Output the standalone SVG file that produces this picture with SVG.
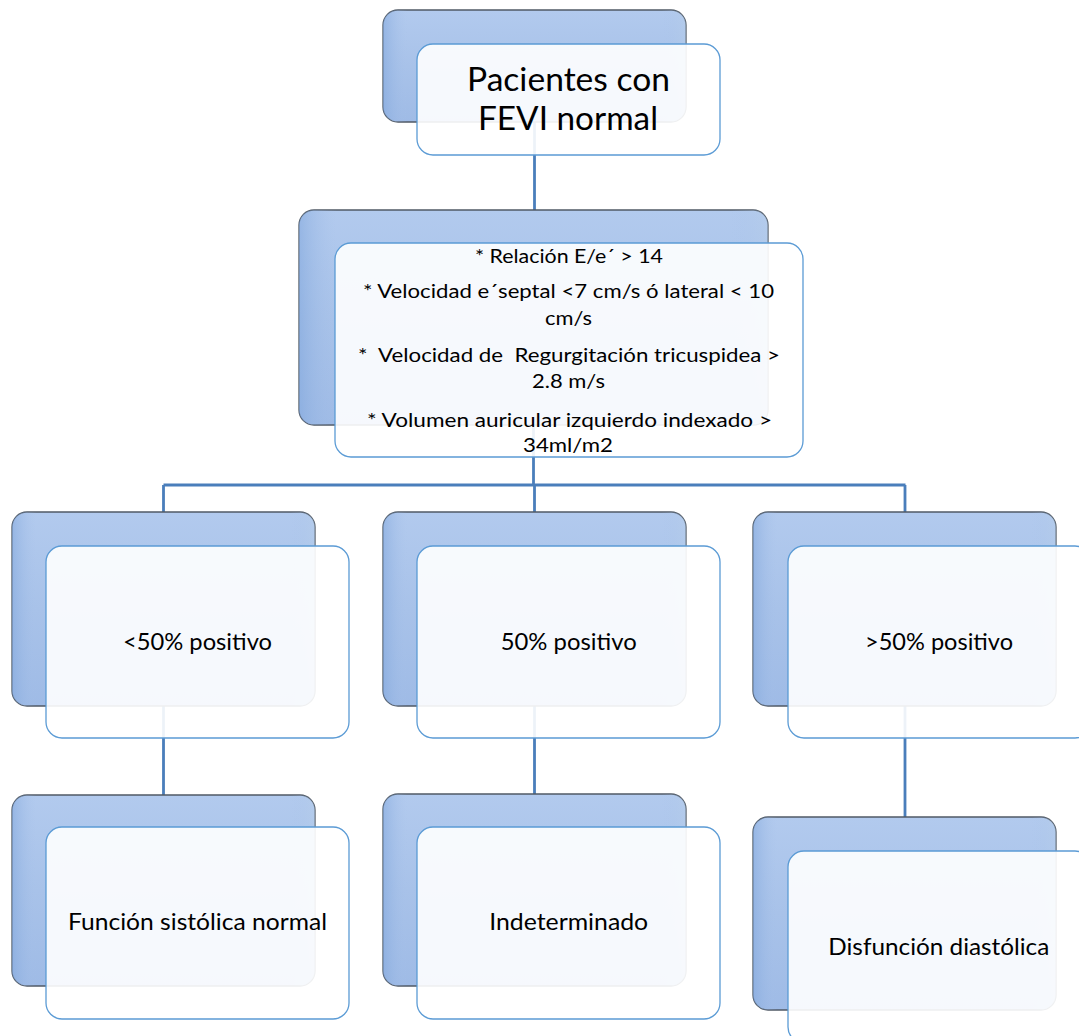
<svg xmlns="http://www.w3.org/2000/svg" width="1079" height="1036" viewBox="0 0 1079 1036">
<defs>
<linearGradient id="bkv" x1="0" y1="0" x2="0" y2="1">
<stop offset="0" stop-color="#b2caee"/>
<stop offset="0.5" stop-color="#a8c2e9"/>
<stop offset="1" stop-color="#9fbbe6"/>
</linearGradient>
<linearGradient id="bkh" x1="0" y1="0" x2="1" y2="0">
<stop offset="0" stop-color="#7fa6dc" stop-opacity="0.55"/>
<stop offset="0.08" stop-color="#a8c2e9" stop-opacity="0"/>
<stop offset="0.92" stop-color="#a8c2e9" stop-opacity="0"/>
<stop offset="1" stop-color="#b8cfe8" stop-opacity="0.4"/>
</linearGradient>
<style>
.bk{fill:url(#bkv);stroke:#505a66;stroke-width:1.3}
.bh{fill:url(#bkh);stroke:none}
.fr{fill:#ffffff;fill-opacity:0.9;stroke:#5b9bd5;stroke-width:1.3}
.conn{stroke:#4a7ebb;stroke-width:2.8;fill:none}
text{font-family:Lato,"Liberation Sans",sans-serif;fill:#000;text-anchor:middle}
.t0{font-size:33px}
.t1{font-size:19.5px}
.t2{font-size:24px}
</style>
</defs>
<g id="connectors">
<path class="conn" d="M534.5,122 V210"/>
<path class="conn" d="M533.5,425 V485"/>
<path class="conn" d="M163.5,485 H905.5"/>
<path class="conn" d="M163.5,485 V512 M534.5,485 V512 M905,485 V512"/>
<path class="conn" d="M163.5,706 V795 M534.5,706 V794 M905,706 V817"/>
</g>
<g id="n0">
<rect class="bk" x="383" y="10" width="303" height="112" rx="15"/>
<rect class="bh" x="383" y="10" width="303" height="112" rx="15"/>
<rect class="fr" x="417" y="44" width="303" height="111" rx="16"/>
<text class="t0" x="568.5" y="91" textLength="203" lengthAdjust="spacingAndGlyphs">Pacientes con</text>
<text class="t0" x="568" y="130" textLength="180" lengthAdjust="spacingAndGlyphs">FEVI normal</text>
</g>
<g id="n1">
<rect class="bk" x="299" y="210" width="469" height="215" rx="15"/>
<rect class="bh" x="299" y="210" width="469" height="215" rx="15"/>
<rect class="fr" x="335" y="243" width="468" height="214" rx="16"/>
<text class="t1" xml:space="preserve" x="569" y="263" textLength="188" lengthAdjust="spacingAndGlyphs">* Relación E/e´ &gt; 14</text>
<text class="t1" xml:space="preserve" x="568.5" y="298" textLength="411" lengthAdjust="spacingAndGlyphs">* Velocidad e´septal &lt;7 cm/s ó lateral &lt; 10</text>
<text class="t1" xml:space="preserve" x="568.5" y="325" textLength="47" lengthAdjust="spacingAndGlyphs">cm/s</text>
<text class="t1" xml:space="preserve" x="569" y="362" textLength="422" lengthAdjust="spacingAndGlyphs">*  Velocidad de  Regurgitación tricuspidea &gt;</text>
<text class="t1" xml:space="preserve" x="568.5" y="388" textLength="73" lengthAdjust="spacingAndGlyphs">2.8 m/s</text>
<text class="t1" xml:space="preserve" x="569.5" y="427" textLength="405" lengthAdjust="spacingAndGlyphs">* Volumen auricular izquierdo indexado &gt;</text>
<text class="t1" xml:space="preserve" x="568" y="452" textLength="90" lengthAdjust="spacingAndGlyphs">34ml/m2</text>
</g>
<g id="n2">
<rect class="bk" x="12" y="512" width="303" height="194" rx="15"/>
<rect class="bh" x="12" y="512" width="303" height="194" rx="15"/>
<rect class="fr" x="46" y="546" width="303" height="192" rx="16"/>
<text class="t2" x="197.5" y="650" textLength="149" lengthAdjust="spacingAndGlyphs">&lt;50% positivo</text>
</g>
<g id="n3">
<rect class="bk" x="383" y="512" width="303" height="194" rx="15"/>
<rect class="bh" x="383" y="512" width="303" height="194" rx="15"/>
<rect class="fr" x="417" y="546" width="303" height="192" rx="16"/>
<text class="t2" x="568.7" y="650" textLength="136" lengthAdjust="spacingAndGlyphs">50% positivo</text>
</g>
<g id="n4">
<rect class="bk" x="753" y="512" width="303" height="194" rx="15"/>
<rect class="bh" x="753" y="512" width="303" height="194" rx="15"/>
<rect class="fr" x="788" y="546" width="303" height="192" rx="16"/>
<text class="t2" x="939" y="650" textLength="148" lengthAdjust="spacingAndGlyphs">&gt;50% positivo</text>
</g>
<g id="n5">
<rect class="bk" x="12" y="795" width="303" height="191" rx="15"/>
<rect class="bh" x="12" y="795" width="303" height="191" rx="15"/>
<rect class="fr" x="46" y="827" width="303" height="192" rx="16"/>
<text class="t2" x="197.5" y="930" textLength="259" lengthAdjust="spacingAndGlyphs">Función sistólica normal</text>
</g>
<g id="n6">
<rect class="bk" x="383" y="794" width="303" height="192" rx="15"/>
<rect class="bh" x="383" y="794" width="303" height="192" rx="15"/>
<rect class="fr" x="417" y="827" width="303" height="192" rx="16"/>
<text class="t2" x="568.7" y="930" textLength="159" lengthAdjust="spacingAndGlyphs">Indeterminado</text>
</g>
<g id="n7">
<rect class="bk" x="753" y="817" width="303" height="193" rx="15"/>
<rect class="bh" x="753" y="817" width="303" height="193" rx="15"/>
<rect class="fr" x="788" y="851" width="303" height="192" rx="16"/>
<text class="t2" x="938.8" y="955" textLength="221" lengthAdjust="spacingAndGlyphs">Disfunción diastólica</text>
</g>
</svg>
